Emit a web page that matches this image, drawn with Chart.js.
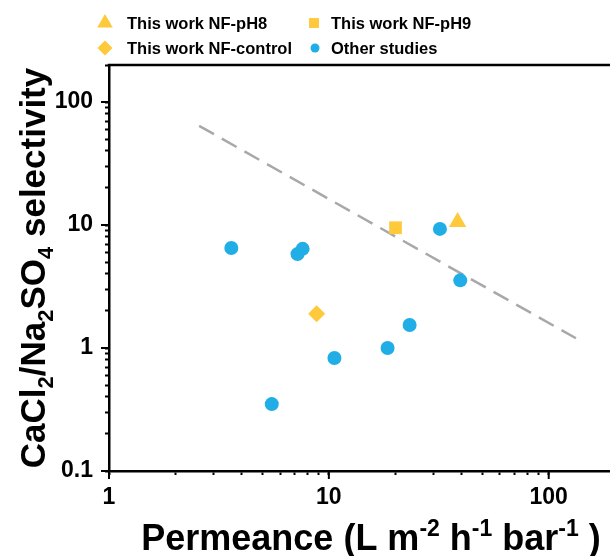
<!DOCTYPE html>
<html>
<head>
<meta charset="utf-8">
<script src="https://cdn.jsdelivr.net/npm/chart.js@4.4.0/dist/chart.umd.min.js"></script>
<style>
  html, body { margin: 0; padding: 0; background: #fff; }
  #wrap { width: 610px; height: 556px; position: relative; }
</style>
</head>
<body>
<div id="wrap"><canvas id="chart"></canvas></div>
<script>
// values
const pH8Perm = [38.5];
const pH8Sel = [10.6];
const pH9Perm = [20.1];
const pH9Sel = [9.5];
const controlPerm = [8.8];
const controlSel = [1.9];
const otherPerm = [3.6, 7.6, 7.2, 32, 39.6, 23.3, 18.5, 10.6, 5.5];
const otherSel = [6.5, 6.4, 5.8, 9.3, 3.55, 1.54, 1.0, 0.83, 0.35];
const trendPerm = [2.57, 133];
const trendSel = [64, 1.2];
const xTickLabels = [1, 10, 100];
const yTickLabels = [0.1, 1, 10, 100];
const legendLabels = ['This work NF-pH8', 'This work NF-pH9', 'This work NF-control', 'Other studies'];

const yellow = '#FFC93C';
const blue = '#21AEE6';
const fontFamily = '"Liberation Sans", Arial, sans-serif';

function toPoints(xs, ys) {
    return xs.map((x, i) => ({ x: x, y: ys[i] }));
}

// log ticks: 1..9 in every decade
function logTicks(scale) {
    const ticks = [];
    const lo = Math.floor(Math.log10(scale.min));
    const hi = Math.ceil(Math.log10(scale.max));
    for (let e = lo; e <= hi; e++) {
        for (let m = 1; m <= 9; m++) {
            const v = Number((m * Math.pow(10, e)).toPrecision(6));
            if (v >= scale.min - 1e-9 && v <= scale.max + 1e-9) ticks.push({ value: v });
        }
    }
    scale.ticks = ticks;
}

function isLabel(list, v) {
    return list.some(t => Math.abs(t - v) < 1e-9);
}

// text with sub/superscripts, centered at 0,0 (baseline)
function drawRich(ctx, parts, size) {
    const big = 'bold ' + size + 'px ' + fontFamily;
    const small = 'bold ' + Math.round(size * 0.64) + 'px ' + fontFamily;
    let total = 0;
    parts.forEach(p => {
        ctx.font = p.s ? small : big;
        p.w = ctx.measureText(p.t).width;
        total += p.w;
    });
    let x = -total / 2;
    parts.forEach(p => {
        ctx.font = p.s ? small : big;
        let dy = 0;
        if (p.s === 'sub') dy = size * 0.22;
        if (p.s === 'sup') dy = -size * 0.38;
        ctx.fillText(p.t, x, dy);
        x += p.w;
    });
}

const decorPlugin = {
    id: 'decor',
    afterDraw(chart) {
        const ctx = chart.ctx;
        const area = chart.chartArea;
        const xs = chart.scales.x;
        const ys = chart.scales.y;
        ctx.save();

        // top frame line
        ctx.strokeStyle = '#000';
        ctx.lineWidth = 2.5;
        ctx.beginPath();
        ctx.moveTo(area.left - 1.25, area.top);
        ctx.lineTo(area.right, area.top);
        ctx.stroke();

        // longer major ticks
        ctx.lineWidth = 2;
        xTickLabels.forEach(v => {
            const px = xs.getPixelForValue(v);
            ctx.beginPath();
            ctx.moveTo(px, area.bottom);
            ctx.lineTo(px, area.bottom + 8);
            ctx.stroke();
        });
        yTickLabels.forEach(v => {
            const py = ys.getPixelForValue(v);
            ctx.beginPath();
            ctx.moveTo(area.left, py);
            ctx.lineTo(area.left - 8, py);
            ctx.stroke();
        });

        // axis titles
        ctx.fillStyle = '#000';
        ctx.textBaseline = 'alphabetic';
        ctx.textAlign = 'left';
        ctx.save();
        ctx.translate(371, 550);
        drawRich(ctx, [
            { t: 'Permeance (L m' }, { t: '-2', s: 'sup' },
            { t: ' h' }, { t: '-1', s: 'sup' },
            { t: ' bar' }, { t: '-1', s: 'sup' }, { t: ' )' }
        ], 36);
        ctx.restore();

        ctx.save();
        ctx.translate(45, 268);
        ctx.rotate(-Math.PI / 2);
        drawRich(ctx, [
            { t: 'CaCl' }, { t: '2', s: 'sub' },
            { t: '/Na' }, { t: '2', s: 'sub' },
            { t: 'SO' }, { t: '4', s: 'sub' },
            { t: ' selectivity' }
        ], 35);
        ctx.restore();

        // legend, two columns
        const ds = chart.data.datasets;
        const cells = [
            { d: 0, mx: 105, tx: 127, y: 23 },
            { d: 1, mx: 314, tx: 331, y: 23 },
            { d: 2, mx: 105, tx: 127, y: 48 },
            { d: 3, mx: 315, tx: 331, y: 48 }
        ];
        ctx.font = 'bold 16.5px ' + fontFamily;
        ctx.textBaseline = 'middle';
        cells.forEach(c => {
            const d = ds[c.d];
            ctx.fillStyle = d.backgroundColor;
            ctx.strokeStyle = d.backgroundColor;
            Chart.helpers.drawPoint(ctx, {
                pointStyle: d.pointStyle,
                radius: d.legendRadius,
                rotation: 0,
                borderWidth: 0
            }, c.mx, c.y);
            ctx.fillStyle = '#000';
            ctx.fillText(d.label, c.tx, c.y + 1);
        });

        ctx.restore();
    }
};

const tickFont = { family: fontFamily, size: 23, weight: 'bold' };

new Chart(document.getElementById('chart'), {
    type: 'scatter',
    data: {
        datasets: [
            {
                label: legendLabels[0],
                data: toPoints(pH8Perm, pH8Sel),
                pointStyle: 'triangle',
                pointRadius: 10,
                legendRadius: 9,
                backgroundColor: yellow,
                borderColor: yellow,
                borderWidth: 0,
                order: 0
            },
            {
                label: legendLabels[1],
                data: toPoints(pH9Perm, pH9Sel),
                pointStyle: 'rect',
                pointRadius: 9,
                legendRadius: 7,
                backgroundColor: yellow,
                borderColor: yellow,
                borderWidth: 0,
                order: 0
            },
            {
                label: legendLabels[2],
                data: toPoints(controlPerm, controlSel),
                pointStyle: 'rectRot',
                pointRadius: 8.5,
                legendRadius: 7.5,
                backgroundColor: yellow,
                borderColor: yellow,
                borderWidth: 0,
                order: 0
            },
            {
                label: legendLabels[3],
                data: toPoints(otherPerm, otherSel),
                pointStyle: 'circle',
                pointRadius: 7,
                legendRadius: 4.5,
                backgroundColor: blue,
                borderColor: blue,
                borderWidth: 0,
                order: 0
            },
            {
                label: 'trend',
                data: toPoints(trendPerm, trendSel),
                showLine: true,
                borderColor: '#A8A8A8',
                borderWidth: 2.5,
                borderDash: [17, 9],
                pointRadius: 0,
                fill: false,
                order: 1
            }
        ]
    },
    options: {
        responsive: true,
        maintainAspectRatio: false,
        animation: false,
        layout: { autoPadding: false, padding: { top: 65, right: 0, left: 0, bottom: 0 } },
        plugins: {
            legend: { display: false },
            tooltip: { enabled: false }
        },
        scales: {
            x: {
                type: 'logarithmic',
                position: 'bottom',
                min: 1,
                max: 190,
                afterBuildTicks: logTicks,
                afterFit: s => { s.height = 85; s.paddingRight = 0; },
                border: { color: '#000', width: 2.5 },
                grid: { drawOnChartArea: false, drawTicks: true, tickLength: 4, tickWidth: 2, tickColor: '#000' },
                ticks: {
                    color: '#000',
                    font: tickFont,
                    padding: 9,
                    autoSkip: false,
                    maxRotation: 0,
                    callback: v => isLabel(xTickLabels, v) ? String(v) : ''
                }
            },
            y: {
                type: 'logarithmic',
                min: 0.1,
                max: 200,
                afterBuildTicks: logTicks,
                afterFit: s => { s.width = 109; },
                border: { color: '#000', width: 2.5 },
                grid: { drawOnChartArea: false, drawTicks: true, tickLength: 4, tickWidth: 2, tickColor: '#000' },
                ticks: {
                    color: '#000',
                    font: tickFont,
                    padding: 12,
                    autoSkip: false,
                    callback: v => isLabel(yTickLabels, v) ? String(v) : ''
                }
            }
        }
    },
    plugins: [decorPlugin]
});
</script>
</body>
</html>
